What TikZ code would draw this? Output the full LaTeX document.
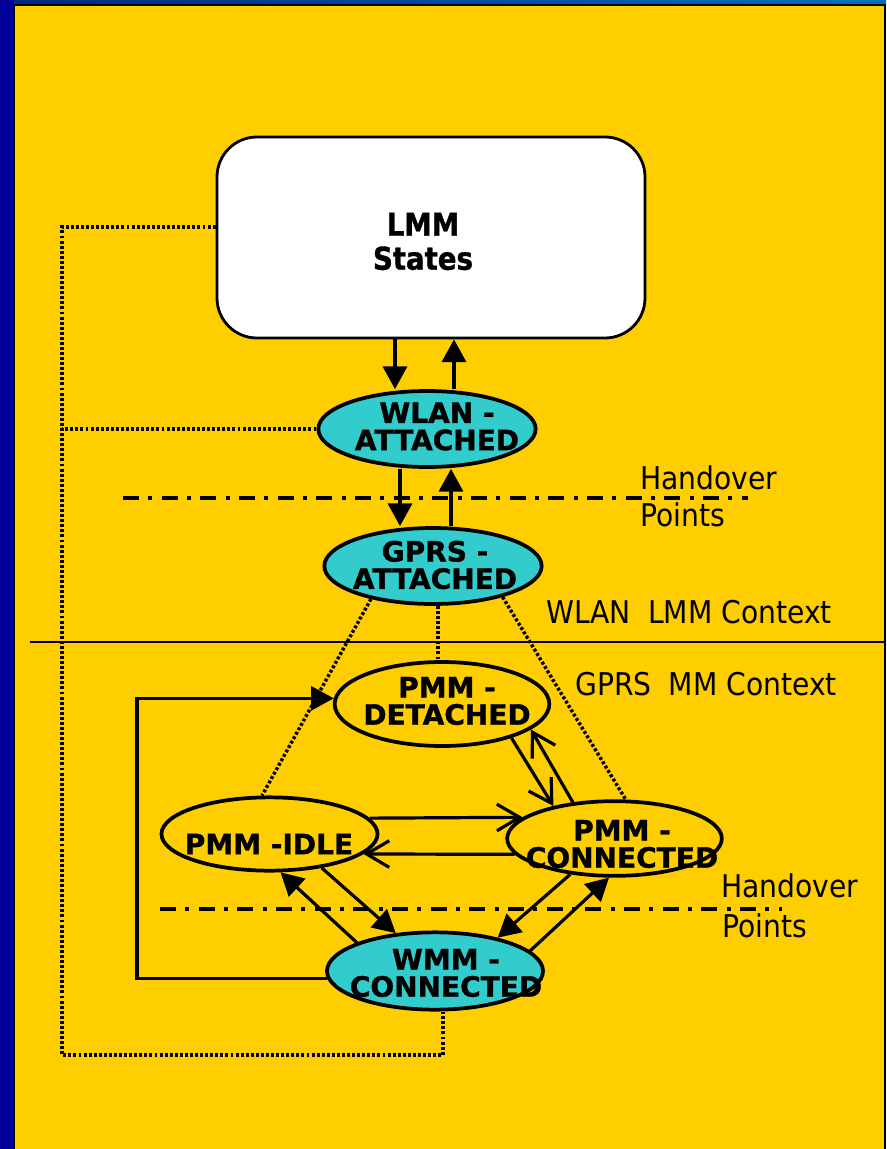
\documentclass[tikz,border=0pt]{standalone}
\usepackage{fontspec}
\setmainfont{DejaVu Sans}
\newfontfamily\narrowsans{DejaVu Sans}[FakeStretch=0.9]
\newfontfamily\statefont{DejaVu Sans Bold}[FakeBold=1.2]
\newfontfamily\lmmfont{DejaVu Sans Bold}[FakeStretch=0.88,FakeBold=1.2]
\usetikzlibrary{arrows.meta,shapes.geometric,calc}

\definecolor{panelyellow}{RGB}{255,206,0}
\definecolor{statecyan}{RGB}{51,204,204}
\definecolor{edgeblue}{RGB}{0,0,153}
\definecolor{stripdark}{RGB}{0,40,130}
\definecolor{stripmid}{RGB}{0,128,200}
\definecolor{stripright}{RGB}{0,110,190}

\begin{document}
\begin{tikzpicture}[x=0.75pt,y=-0.75pt,
  lmmbox/.style={draw=black, fill=white, line width=2.1pt, rounded corners=30pt,
    minimum width=321pt, minimum height=150.75pt, inner sep=0pt},
  state/.style={ellipse, draw=black, line width=2.8pt, inner sep=0pt},
  attached/.style={state, fill=statecyan},
  pmm/.style={state, fill=panelyellow},
  statetext/.style={inner sep=0pt, align=center, font=\statefont\fontsize{21pt}{20.5pt}\selectfont},
  lmmtext/.style={inner sep=0pt, align=center, font=\lmmfont\fontsize{23.5pt}{25.5pt}\selectfont},
  labeltext/.style={inner sep=0pt, anchor=base west, font=\narrowsans\fontsize{23.5pt}{26pt}\selectfont},
  fwd/.style={line width=2.4pt, -{Triangle[length=17pt,width=18pt]}},
  barb/.style={line width=2.4pt, -{Straight Barb[length=17pt,width=20pt]}},
  loopline/.style={line width=2.6pt, dash pattern=on 2.2pt off 1.6pt},
  handover/.style={line width=2.6pt, dash pattern=on 12pt off 7pt on 3pt off 7pt}]

\useasboundingbox (0,0) rectangle (886,1149);

% frame and panel
\fill[edgeblue] (0,0) rectangle (886,1149);
\shade[left color=stripdark, middle color=stripmid, right color=stripright] (14,0) rectangle (886,5);
\draw[fill=panelyellow, line width=1.5pt] (13.8,5) rectangle (885,1170);

% context divider and handover lines
\draw[line width=1.4pt] (30,642) -- (886,642);
\draw[handover] (123,498) -- (748,498);
\draw[handover] (160,909) -- (782,909);

% states
\node[lmmbox] (lmm) at (431,237.5) {};
\node[attached, minimum width=163pt, minimum height=57pt] (wlan) at (427,429) {};
\node[attached, minimum width=163pt, minimum height=57pt] (gprs) at (433,566) {};
\node[pmm, minimum width=161pt, minimum height=63pt] (det) at (442,704) {};
\node[pmm, minimum width=162pt, minimum height=55pt] (idle) at (269.5,834) {};
\node[pmm, minimum width=161pt, minimum height=56pt] (conn) at (614.5,838.5) {};
\node[attached, minimum width=162pt, minimum height=58pt] (wmm) at (435,971) {};

% helper coordinates for routed connectors
\coordinate (loopL) at (62,227);
\coordinate (loopB) at (443,1055);
\coordinate (railW) at (137,0);
\coordinate (midG) at (438,0);

% dotted context links
\draw[loopline] (lmm.west |- loopL) -- (loopL) -- (loopL |- loopB) -- (loopB) -- (wmm.south -| loopB);
\draw[loopline] (wlan.west) -- (wlan.west -| loopL);
\draw[loopline] (gprs.-152) -- (idle.101);
\draw[loopline] (gprs.south -| midG) -- (det.north -| midG);
\draw[loopline] (gprs.-24) -- (conn.74);

% LMM transitions
\draw[fwd] (lmm.south -| 395,0) -- (wlan.north -| 395,0);
\draw[fwd] (wlan.north -| 454,0) -- (lmm.south -| 454,0);
\draw[fwd] (wlan.south -| 400,0) -- (gprs.north -| 400,0);
\draw[fwd] (gprs.north -| 451,0) -- (wlan.south -| 451,0);

% MM transitions
\draw[barb] (det.-26) -- (conn.152);
\draw[barb] (conn.139) -- (det.-16);
\draw[barb] (idle.9) -- (conn.167);
\draw[barb] (conn.189) -- (idle.-12);
\draw[fwd] (idle.-33) -- (wmm.136);
\draw[fwd] (wmm.160) -- (idle.-74);
\draw[fwd] (conn.-141) -- (wmm.28);
\draw[fwd] (wmm.12) -- (conn.-98);
\draw[fwd] (wmm.184) -- (wmm.184 -| railW) -- (det.177 -| railW) -- (det.177);

% state labels
\node[lmmtext] (lmmlabel) at (423,241.5) {LMM\\States};
\node[statetext] (wlanlabel) at (437,426.5) {WLAN -\\ATTACHED};
\node[statetext] (gprslabel) at (435,565) {GPRS -\\ATTACHED};
\node[statetext] (detlabel) at (447,701) {PMM -\\DETACHED};
\node[statetext] (idlelabel) at (269,844) {PMM -IDLE};
\node[statetext] (connlabel) at (622,844) {PMM -\\CONNECTED};
\node[statetext] (wmmlabel) at (446,973) {WMM -\\CONNECTED};

% side labels
\node[labeltext] (ho1) at (640,489) {Handover};
\node[labeltext] (pt1) at (640,526) {Points};
\node[labeltext] (wlanctx) at (546,623) {WLAN\hspace{0.55em}LMM Context};
\node[labeltext] (gprsctx) at (575,695) {GPRS\hspace{0.55em}MM Context};
\node[labeltext] (ho2) at (721,897) {Handover};
\node[labeltext] (pt2) at (722,937) {Points};
\end{tikzpicture}
\end{document}
